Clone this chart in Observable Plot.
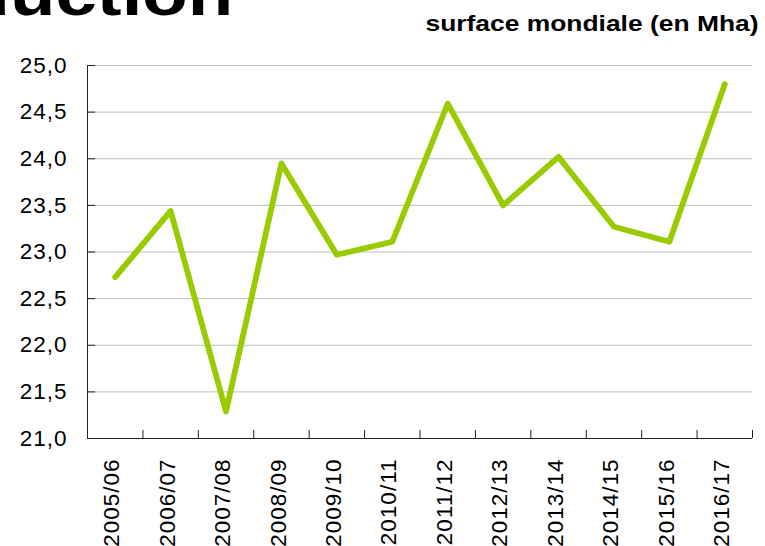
<!DOCTYPE html>
<html>
<head>
<meta charset="utf-8">
<script src="https://cdn.jsdelivr.net/npm/d3@7"></script>
<script src="https://cdn.jsdelivr.net/npm/@observablehq/plot@0.6"></script>
<style>
  body { margin: 0; background: #fff; }
  #wrap { position: relative; width: 765px; height: 546px; overflow: hidden; font-family: "Liberation Sans", Arial, sans-serif; }
  #title { position: absolute; right: 532px; top: -37px; font-size: 62px; font-weight: bold; line-height: 1; white-space: nowrap; transform: scaleX(1.2); transform-origin: right bottom; color: #000; }
  #subtitle { position: absolute; right: 6px; top: 12.5px; font-size: 22px; font-weight: bold; line-height: 1; white-space: nowrap; transform: scaleX(1.2); transform-origin: right bottom; color: #000; }
  #chart { position: absolute; left: 0; top: 0; }
</style>
</head>
<body>
<div id="wrap">
  <div id="chart"></div>
  <div id="title">Production</div>
  <div id="subtitle">surface mondiale (en Mha)</div>
</div>
<script>
const seasons = ["2005/06", "2006/07", "2007/08", "2008/09", "2009/10", "2010/11", "2011/12", "2012/13", "2013/14", "2014/15", "2015/16", "2016/17"];
const surface = [22.73, 23.44, 21.29, 23.95, 22.97, 23.11, 24.59, 23.50, 24.02, 23.27, 23.11, 24.80];
const yTicks = [21, 21.5, 22, 22.5, 23, 23.5, 24, 24.5, 25];

const data = seasons.map((s, i) => ({i, s, v: surface[i]}));
const bounds = seasons.map((s, i) => i + 0.5);
const fmt = d => d.toFixed(1).replace(".", ",");

const chart = Plot.plot({
  width: 765,
  height: 546,
  marginTop: 65,
  marginBottom: 108,
  marginLeft: 87,
  marginRight: 13,
  style: {fontFamily: "'Liberation Sans', Arial, sans-serif", fontSize: "22px", color: "#000", background: "transparent", letterSpacing: "1px"},
  x: {type: "linear", domain: [-0.5, 11.5], axis: null},
  y: {domain: [21, 25], axis: null},
  marks: [
    Plot.ruleY(yTicks.slice(1), {y: d => d, stroke: "#bdbdbd", strokeWidth: 1}),
    Plot.ruleY(yTicks, {y: d => d, x1: -0.5, x2: -0.355, stroke: "#222", strokeWidth: 1}),
    Plot.ruleX(bounds, {x: d => d, y1: 21, y2: 21.086, stroke: "#222", strokeWidth: 1}),
    Plot.ruleX([-0.5], {stroke: "#222", strokeWidth: 1}),
    Plot.ruleY([21], {stroke: "#222", strokeWidth: 1}),
    Plot.text(yTicks, {x: -0.5, y: d => d, text: fmt, textAnchor: "end", dx: -20, fill: "#000", fontSize: 22.5}),
    Plot.text(data, {x: "i", y: () => 21, text: "s", rotate: -90, textAnchor: "end", dy: 20, dx: -3, fill: "#000", fontSize: 22.5}),
    Plot.line(data, {x: "i", y: "v", stroke: "#99cc00", strokeWidth: 5.8, strokeLinejoin: "round", strokeLinecap: "round"})
  ]
});
document.getElementById("chart").appendChild(chart);
</script>
</body>
</html>
